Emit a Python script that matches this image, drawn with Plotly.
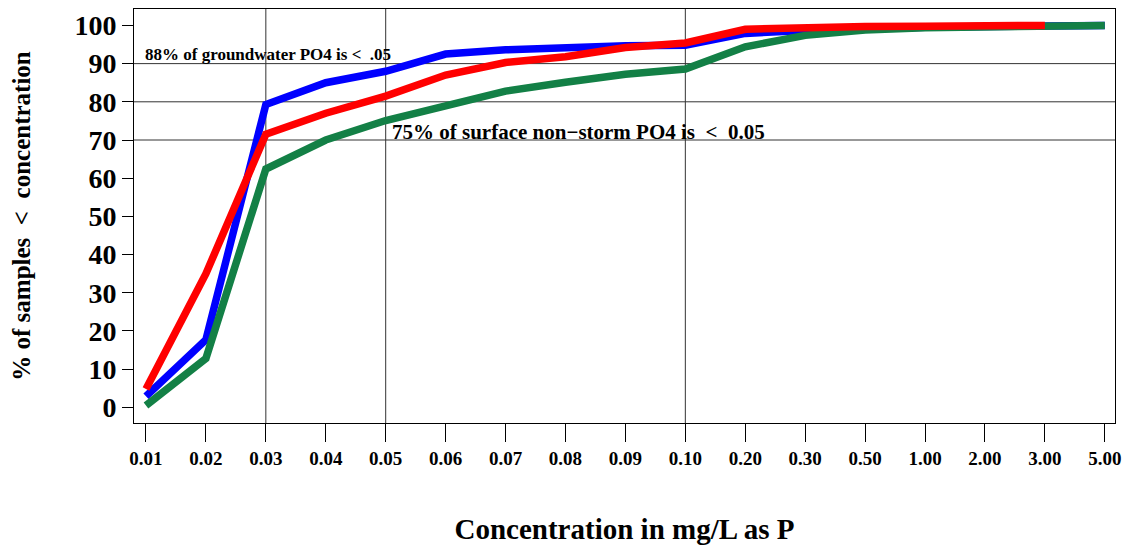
import plotly.graph_objects as go

conc_labels = ["0.01", "0.02", "0.03", "0.04", "0.05", "0.06", "0.07", "0.08", "0.09",
               "0.10", "0.20", "0.30", "0.50", "1.00", "2.00", "3.00", "5.00"]

groundwater = [2.9, 17.7, 79.3, 85.0, 88.0, 92.5, 93.6, 94.2, 94.7, 94.8, 97.9, 98.7, 99.2, 99.5, 99.7, 99.9, 100.0]
surface_storm = [4.8, 35.0, 71.5, 77.0, 81.5, 87.0, 90.3, 91.8, 94.2, 95.4, 99.0, 99.5, 99.7, 99.8, 99.9, 100.0]
surface_nonstorm = [0.5, 12.8, 62.4, 70.0, 75.1, 79.1, 82.8, 85.1, 87.2, 88.6, 94.4, 97.4, 98.8, 99.4, 99.7, 100.0, 100.0]

hlines = [70, 80, 90]
vlines = ["0.03", "0.05", "0.10"]
y_ticks = [0, 10, 20, 30, 40, 50, 60, 70, 80, 90, 100]

FONT = "Liberation Serif"
idx = list(range(len(conc_labels)))

fig = go.Figure()
series = [
    (groundwater, "#0000FF", "Groundwater"),
    (surface_nonstorm, "#138046", "Surface non-storm"),
    (surface_storm, "#FF0000", "Surface storm"),
]
for vals, col, name in series:
    fig.add_trace(go.Scatter(x=idx[:len(vals)], y=vals, mode="lines", name=name,
                             line=dict(color=col, width=7.5), showlegend=False))

for h in hlines:
    fig.add_shape(type="line", xref="paper", x0=0, x1=1, yref="y", y0=h, y1=h,
                  line=dict(color="#333333", width=1), layer="below")
for v in vlines:
    xv = conc_labels.index(v)
    fig.add_shape(type="line", xref="x", x0=xv, x1=xv, yref="paper", y0=0, y1=1,
                  line=dict(color="#333333", width=1), layer="below")

fig.add_annotation(x=-0.05, y=92.5, xref="x", yref="y", xanchor="left", yanchor="middle",
                   text="88% of groundwater PO4 is <  .05", showarrow=False,
                   font=dict(family=FONT, size=17, color="black", weight="bold"))
fig.add_annotation(x=conc_labels.index("0.05") + 0.08, y=72.2, xref="x", yref="y",
                   xanchor="left", yanchor="middle",
                   text="75% of surface non−storm PO4 is  <  0.05", showarrow=False,
                   font=dict(family=FONT, size=21, color="black", weight="bold"))

fig.update_layout(
    width=1129, height=550,
    margin=dict(l=134, r=12, t=8, b=127),
    paper_bgcolor="white", plot_bgcolor="white",
    font=dict(family=FONT, color="black"),
)
fig.update_xaxes(
    range=[-0.2, 16.17], tickmode="array", tickvals=idx, ticktext=conc_labels,
    showgrid=False, zeroline=False, showline=True, mirror=True, linecolor="black", linewidth=1,
    ticks="outside", ticklen=18, tickcolor="black", tickwidth=1,
    tickfont=dict(family=FONT, size=19, color="black", weight="bold"),
    title=dict(text="Concentration in mg/L as P", standoff=50,
               font=dict(family=FONT, size=29, color="black", weight="bold")),
)
fig.update_yaxes(
    range=[-4.1, 104.3], tickmode="array", tickvals=y_ticks,
    showgrid=False, zeroline=False, showline=True, mirror=True, linecolor="black", linewidth=1,
    ticks="outside", ticklen=11, tickcolor="black", tickwidth=1,
    tickfont=dict(family=FONT, size=28, color="black", weight="bold"),
    title=dict(text="% of samples  <  concentration", standoff=36,
               font=dict(family=FONT, size=25, color="black", weight="bold")),
)

fig.write_html("out.html")
